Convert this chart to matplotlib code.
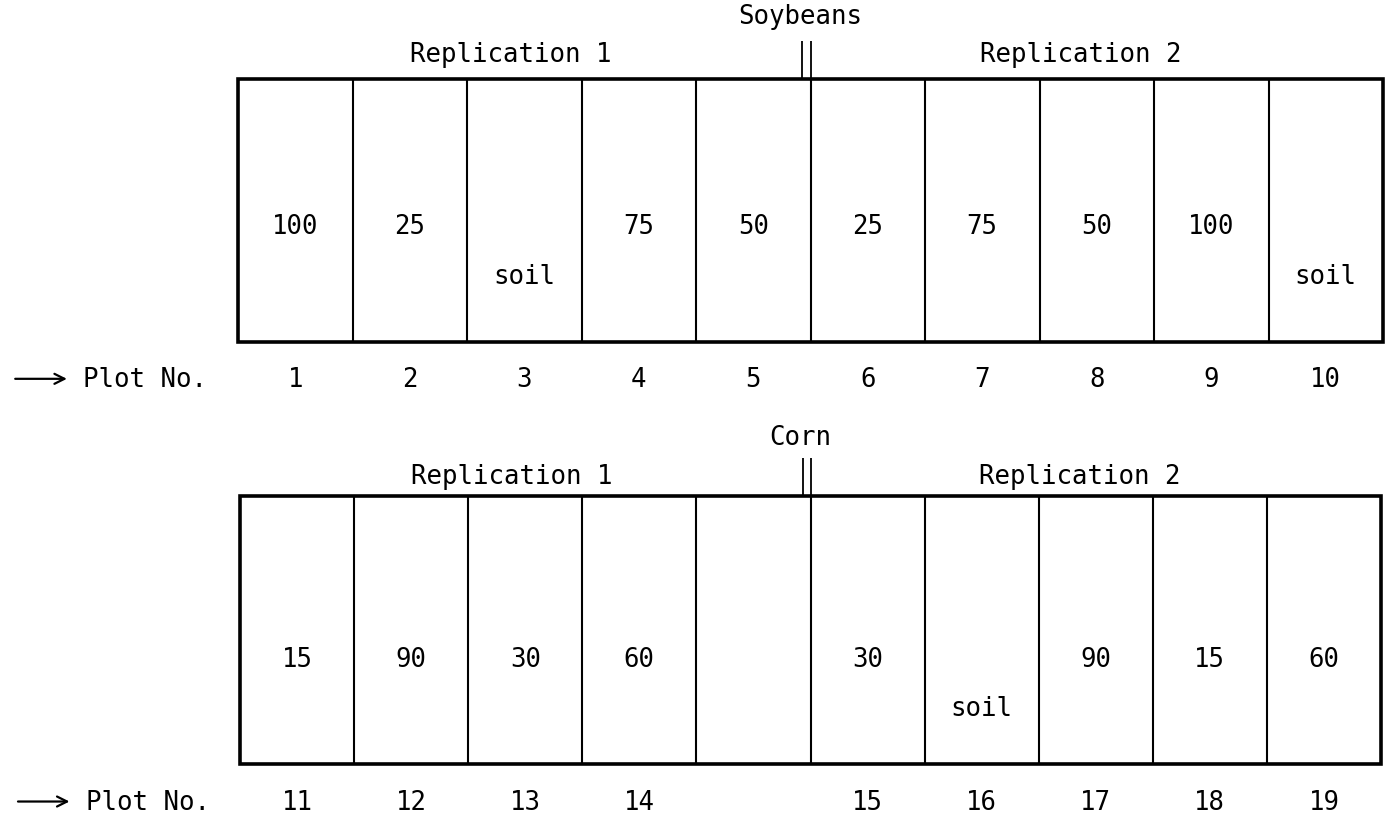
import matplotlib
matplotlib.use('Agg')
import matplotlib.pyplot as plt
from matplotlib.patches import Rectangle

plt.rcParams['font.family'] = ['DejaVu Sans Mono']

# treatment written in each plot, left to right (soil = soil-only check)
soy_treatments = ['100', '25', 'soil', '75', '50', '25', '75', '50', '100', 'soil']
soy_plot_no = ['1', '2', '3', '4', '5', '6', '7', '8', '9', '10']

corn_treatments = ['15', '90', '30', '60', '', '30', 'soil', '90', '15', '60']
corn_plot_no = ['11', '12', '13', '14', '', '15', '16', '17', '18', '19']

rep_labels = ['Replication 1', 'Replication 2']

FS = 18.5


def draw_field(ax, crop, treatments, plot_no, num_y, soil_y, plot_y, rep_y, crop_y, bar_top):
    n = len(treatments)
    ax.set_xlim(0, n)
    ax.set_ylim(0, 1)
    ax.axis('off')

    # outline and plot dividers
    ax.add_patch(Rectangle((0, 0), n, 1, fill=False, lw=2.6, ec='black', clip_on=False))
    ax.vlines(range(1, n), 0, 1, colors='black', lw=1.5)

    # double bar between the two replications
    half = n // 2
    ax.vlines([half - 0.07, half], 1, bar_top, colors='black', lw=1.3, clip_on=False)

    for i, (t, p) in enumerate(zip(treatments, plot_no)):
        y = soil_y if t == 'soil' else num_y
        ax.text(i + 0.5, y, t, ha='center', va='center', fontsize=FS)
        ax.text(i + 0.5, plot_y, p, ha='center', va='center', fontsize=FS)

    ax.text(half * 0.476, rep_y, rep_labels[0], ha='center', va='center', fontsize=FS)
    ax.text(half * 1.472, rep_y, rep_labels[1], ha='center', va='center', fontsize=FS)
    ax.text(half - 0.09, crop_y, crop, ha='center', va='center', fontsize=FS)

    ax.annotate('', xy=(-1.47, plot_y), xytext=(-1.97, plot_y),
                xycoords='data', annotation_clip=False,
                arrowprops=dict(arrowstyle='->', lw=1.6, color='black',
                                mutation_scale=18))
    ax.text(-1.35, plot_y, 'Plot No.', ha='left', va='center', fontsize=FS)


fig = plt.figure(figsize=(13.89, 8.28), dpi=100)
fig.patch.set_facecolor('white')

ax_soy = fig.add_axes([238 / 1389, 1 - 343 / 828, 1145 / 1389, 263 / 828])
draw_field(ax_soy, 'Soybeans', soy_treatments, soy_plot_no,
           num_y=0.44, soil_y=0.25, plot_y=-0.14, rep_y=1.095, crop_y=1.24, bar_top=1.145)

ax_corn = fig.add_axes([240 / 1389, 1 - 765 / 828, 1141 / 1389, 268 / 828])
draw_field(ax_corn, 'Corn', corn_treatments, corn_plot_no,
           num_y=0.39, soil_y=0.21, plot_y=-0.14, rep_y=1.075, crop_y=1.22, bar_top=1.14)

fig.savefig('out.png', dpi=100, facecolor='white')
